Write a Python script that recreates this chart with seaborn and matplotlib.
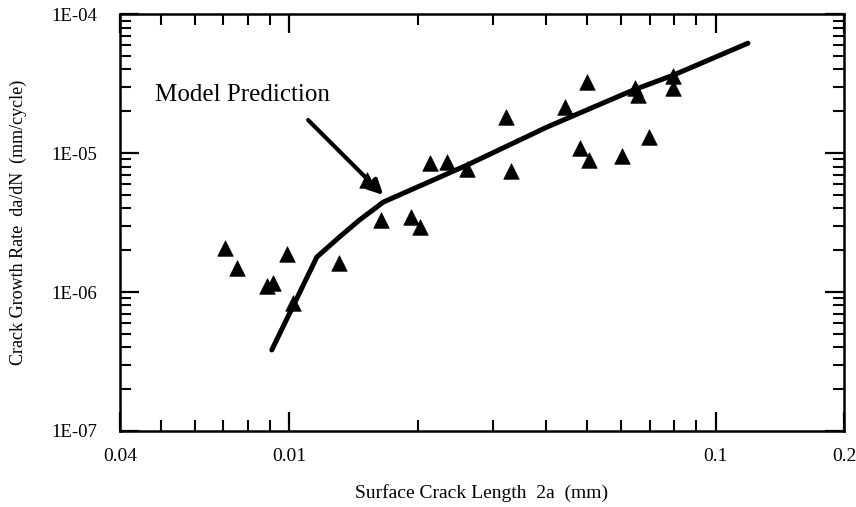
import numpy as np
import pandas as pd
import seaborn as sns
import matplotlib.pyplot as plt
from matplotlib.ticker import FixedLocator, FixedFormatter, LogLocator, NullFormatter

crack_len = [0.00706, 0.00753, 0.00986, 0.00885, 0.00915, 0.0102, 0.0131,
             0.0152, 0.0164, 0.0193, 0.0202, 0.0214, 0.0234, 0.0261, 0.0331,
             0.0322, 0.0443, 0.0499, 0.0481, 0.0505, 0.0603, 0.0698, 0.0647,
             0.0658, 0.0795, 0.0795]
growth_rate = [2.07e-6, 1.49e-6, 1.88e-6, 1.10e-6, 1.16e-6, 8.3e-7, 1.62e-6,
               6.4e-6, 3.30e-6, 3.47e-6, 2.94e-6, 8.5e-6, 8.6e-6, 7.7e-6, 7.4e-6,
               1.82e-5, 2.14e-5, 3.24e-5, 1.09e-5, 8.9e-6, 9.5e-6, 1.30e-5, 2.93e-5,
               2.61e-5, 3.58e-5, 2.93e-5]

# model prediction curve
model_len = [0.00909, 0.0116, 0.0131, 0.0146, 0.0166, 0.0261, 0.0402, 0.064,
             0.0795, 0.119]
model_rate = [3.83e-7, 1.79e-6, 2.49e-6, 3.30e-6, 4.44e-6, 8.2e-6, 1.54e-5,
              2.84e-5, 3.64e-5, 6.18e-5]

x_ticks = [0.004, 0.01, 0.1, 0.2]
x_labels = ['0.04', '0.01', '0.1', '0.2']
y_ticks = [1e-7, 1e-6, 1e-5, 1e-4]
y_labels = ['1E-07', '1E-06', '1E-05', '1E-04']

df = pd.DataFrame({'a': crack_len, 'rate': growth_rate})
dfm = pd.DataFrame({'a': model_len, 'rate': model_rate})

sns.set_style('white')
plt.rcParams['font.family'] = ['Liberation Serif', 'DejaVu Serif']
plt.rcParams['text.color'] = 'black'
plt.rcParams['axes.labelcolor'] = 'black'
plt.rcParams['xtick.color'] = 'black'
plt.rcParams['ytick.color'] = 'black'

fig = plt.figure(figsize=(8.56, 5.07), dpi=100)
ax = fig.add_axes([0.140, 0.150, 0.846, 0.822])
ax.set_xscale('log')
ax.set_yscale('log')

sns.lineplot(data=dfm, x='a', y='rate', sort=False, estimator=None,
             color='black', lw=3.6, ax=ax)
sns.scatterplot(data=df, x='a', y='rate', marker='^', s=125, color='black',
                edgecolor='black', linewidth=0.5, ax=ax, zorder=3)

ax.set_xlim(0.004, 0.2)
ax.set_ylim(1e-7, 1e-4)

ax.xaxis.set_major_locator(FixedLocator(x_ticks))
ax.xaxis.set_major_formatter(FixedFormatter(x_labels))
ax.xaxis.set_minor_locator(LogLocator(base=10, subs=np.arange(2, 10), numticks=20))
ax.xaxis.set_minor_formatter(NullFormatter())
ax.yaxis.set_major_locator(FixedLocator(y_ticks))
ax.yaxis.set_major_formatter(FixedFormatter(y_labels))
ax.yaxis.set_minor_locator(LogLocator(base=10, subs=np.arange(2, 10), numticks=20))
ax.yaxis.set_minor_formatter(NullFormatter())

ax.tick_params(which='both', direction='in', top=True, right=True,
               bottom=True, left=True, color='black')
ax.tick_params(which='major', length=14, width=1.6)
ax.tick_params(which='minor', length=8, width=1.5)
ax.tick_params(axis='x', which='major', pad=12, labelsize=14)
ax.tick_params(axis='y', which='major', pad=16, labelsize=13.5)

for s in ax.spines.values():
    s.set_visible(True)
    s.set_color('black')
    s.set_linewidth(1.8)

ax.set_xlabel('Surface Crack Length  2a  (mm)', fontsize=14, labelpad=14)
ax.set_ylabel('Crack Growth Rate  da/dN  (mm/cycle)', fontsize=13, labelpad=18)

ax.annotate('Model Prediction', xy=(0.0166, 4.99e-6), xytext=(0.00483, 2.61e-5),
            fontsize=18, va='center', ha='left')
ax.annotate('', xy=(0.0166, 4.99e-6), xytext=(0.01106, 1.73e-5),
            arrowprops=dict(arrowstyle='-|>', color='black', lw=3,
                            mutation_scale=22, shrinkA=0, shrinkB=0))

fig.savefig('out.png', dpi=100)
